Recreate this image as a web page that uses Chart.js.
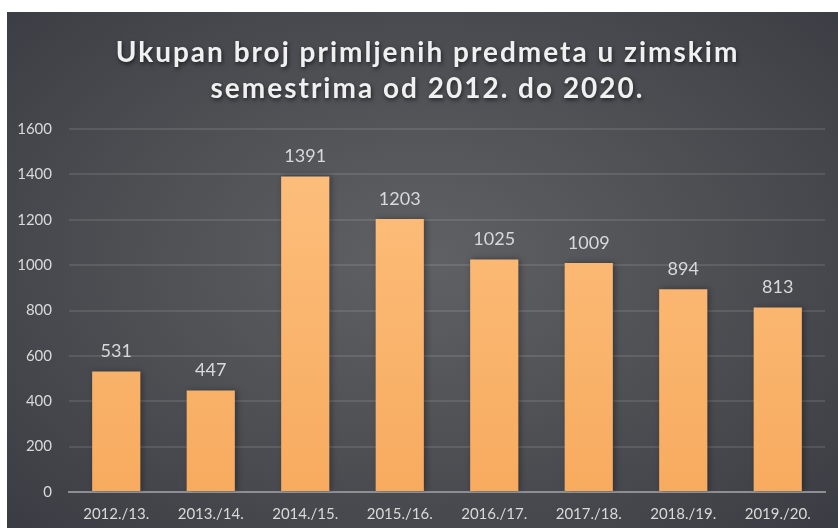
<!DOCTYPE html>
<html lang="hr">
<head>
<meta charset="UTF-8" />
<title>Ukupan broj primljenih predmeta</title>
<script src="https://cdn.jsdelivr.net/npm/chart.js"></script>
<style>
    html, body { margin: 0; padding: 0; background: #ffffff; }
    .chart-box {
        position: absolute;
        left: 7px;
        top: 12px;
        width: 831px;
        height: 516px;
        background: radial-gradient(ellipse 70% 75% at 50% 48%, #606165 0%, #505155 45%, #3a3c43 100%);
    }
</style>
</head>
<body>
<div class="chart-box"><canvas id="winterChart"></canvas></div>
<script>
    const semesters = ["2012./13.", "2013./14.", "2014./15.", "2015./16.", "2016./17.", "2017./18.", "2018./19.", "2019./20."];
    const receivedCases = [531, 447, 1391, 1203, 1025, 1009, 894, 813];
    const titleLines = ["Ukupan broj primljenih predmeta u zimskim", "semestrima od 2012. do 2020."];

    const labelColor = "#d9d9d9";

    // title with shadow and spaced letters
    const titlePlugin = {
        id: "shadowTitle",
        afterDraw(chart) {
            const ctx = chart.ctx;
            ctx.save();
            ctx.font = "bold 28px Lato";
            ctx.letterSpacing = "2px";
            ctx.fillStyle = "#f0f0f0";
            ctx.textAlign = "center";
            ctx.textBaseline = "middle";
            ctx.shadowColor = "rgba(0,0,0,0.6)";
            ctx.shadowBlur = 4;
            ctx.shadowOffsetX = 1;
            ctx.shadowOffsetY = 2;
            titleLines.forEach((line, i) => {
                ctx.fillText(line, chart.width / 2 + 5, 41 + i * 36);
            });
            ctx.restore();
        },
    };

    // soft shadow behind bars + value labels on top
    const barShadow = {
        id: "barShadow",
        beforeDatasetsDraw(chart) {
            const ctx = chart.ctx;
            ctx.save();
            ctx.shadowColor = "rgba(0,0,0,0.35)";
            ctx.shadowBlur = 6;
            ctx.shadowOffsetX = 2;
            ctx.shadowOffsetY = 0;
        },
        afterDatasetsDraw(chart) {
            const ctx = chart.ctx;
            ctx.restore();
            ctx.save();
            ctx.font = "18px Lato";
            ctx.fillStyle = labelColor;
            ctx.textAlign = "center";
            ctx.textBaseline = "middle";
            chart.getDatasetMeta(0).data.forEach((bar, i) => {
                ctx.fillText(receivedCases[i], bar.x, bar.y - 20);
            });
            ctx.restore();
        },
    };

    function barGradient(context) {
        const area = context.chart.chartArea;
        if (!area) return "#f9b36c";
        const g = context.chart.ctx.createLinearGradient(0, area.top, 0, area.bottom);
        g.addColorStop(0, "#fdc07f");
        g.addColorStop(1, "#f7ab5f");
        return g;
    }

    new Chart(document.getElementById("winterChart"), {
        type: "bar",
        data: {
            labels: semesters,
            datasets: [
                {
                    data: receivedCases,
                    backgroundColor: barGradient,
                    borderWidth: 0,
                    categoryPercentage: 1,
                    barPercentage: 0.51,
                },
            ],
        },
        options: {
            responsive: true,
            maintainAspectRatio: false,
            animation: false,
            layout: { padding: { top: 117, left: 11, right: 13, bottom: 0 } },
            plugins: {
                legend: { display: false },
                title: { display: false },
                tooltip: { enabled: false },
            },
            scales: {
                x: {
                    grid: { display: false, drawTicks: false },
                    border: { color: "#8e8f92", width: 2 },
                    ticks: {
                        color: labelColor,
                        font: { family: "Lato", size: 15 },
                        padding: 13,
                        maxRotation: 0,
                    },
                    afterFit: (scale) => { scale.height = 36; },
                },
                y: {
                    min: 0,
                    max: 1600,
                    ticks: {
                        stepSize: 200,
                        color: labelColor,
                        font: { family: "Lato", size: 15 },
                        padding: 17,
                        callback: (value) => String(value),
                    },
                    grid: { color: "rgba(255,255,255,0.1)", lineWidth: 2, drawTicks: false },
                    border: { display: false },
                    afterFit: (scale) => { scale.width = 51; },
                },
            },
        },
        plugins: [titlePlugin, barShadow],
    });
</script>
</body>
</html>
